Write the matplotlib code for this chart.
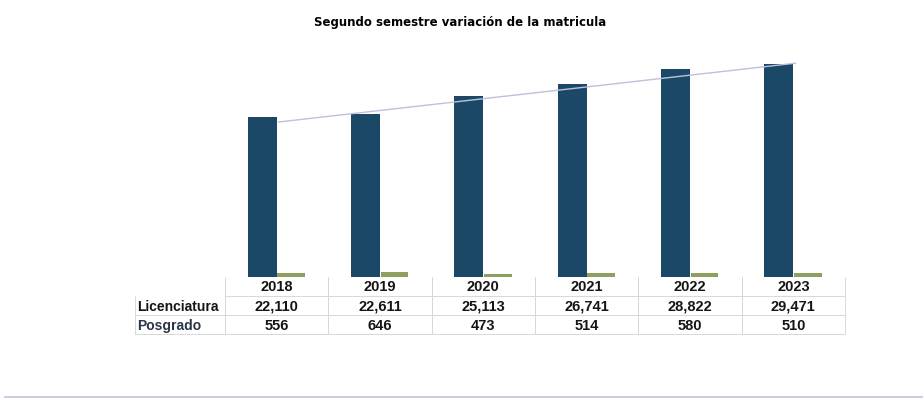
import numpy as np
import matplotlib.pyplot as plt
from matplotlib.lines import Line2D

years = ['2018', '2019', '2020', '2021', '2022', '2023']
licenciatura = [22110, 22611, 25113, 26741, 28822, 29471]
posgrado = [556, 646, 473, 514, 580, 510]
row_labels = ['Licenciatura', 'Posgrado']

plt.rcParams['font.family'] = ['Liberation Sans', 'DejaVu Sans']

fig = plt.figure(figsize=(9.23, 4.02), dpi=100)
ax = fig.add_axes([0.2438, 0.3085, 0.6717, 0.5796])

x = np.arange(len(years))
w = 0.28
ax.bar(x - w / 2, licenciatura, width=w, color='#1c4868')
ax.bar(x + w / 2, posgrado, width=w * 0.95, color='#8da05f')

# linear trend line of Licenciatura
coef = np.polyfit(x, licenciatura, 1)
tx = np.array([x[0], x[-1]]) + 0.02
ax.plot(tx, np.polyval(coef, tx - 0.02) - 250, color='#c2bedb', lw=1)

ax.set_xlim(-0.5, len(years) - 0.5)
ax.set_ylim(0, 32300)
ax.axis('off')

# data table below the bars
cell_text = [[''] + years,
             [row_labels[0]] + [f'{v:,}' for v in licenciatura],
             [row_labels[1]] + [f'{v:,}' for v in posgrado]]
lab_w = 90 / 620
tbl = ax.table(cellText=cell_text, colWidths=[lab_w] + [1 / 6] * 6,
               bbox=[-lab_w, -0.245, 1 + lab_w, 0.245], cellLoc='center')
tbl.auto_set_font_size(False)
for (r, c), cell in tbl.get_celld().items():
    cell.set_edgecolor('#d8d8dc')
    cell.set_linewidth(0.7)
    cell.get_text().set_fontsize(10.5)
    cell.get_text().set_fontweight('bold')
    cell.get_text().set_color('#151515')
    if c == 0:
        cell.get_text().set_ha('left')
        cell.get_text().set_fontsize(10)
        cell.PAD = 0.02
        if r == 0:
            cell.visible_edges = ''
        else:
            cell.visible_edges = 'LB'
    elif r == 0:
        cell.visible_edges = 'LR'
tbl[2, 0].get_text().set_color('#2a3548')

fig.text(0.498, 0.943, 'Segundo semestre variación de la matricula',
         ha='center', va='center', fontsize=8.5, fontweight='bold',
         family='DejaVu Sans')

# scan border line at bottom
fig.add_artist(Line2D([0.005, 1.0], [0.01, 0.01], color='#c0c3d4', lw=1.2))

fig.savefig('out.png', dpi=100)
